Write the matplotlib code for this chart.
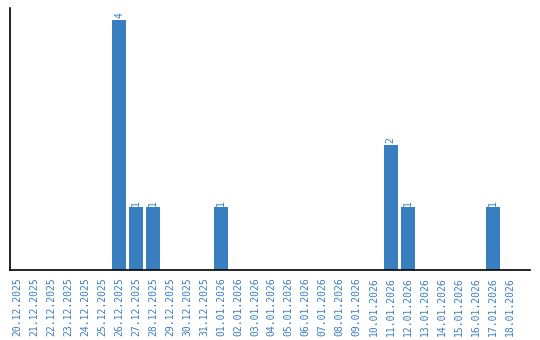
import matplotlib
matplotlib.use('Agg')
import matplotlib.pyplot as plt

dates = ["20.12.2025", "21.12.2025", "22.12.2025", "23.12.2025", "24.12.2025",
         "25.12.2025", "26.12.2025", "27.12.2025", "28.12.2025", "29.12.2025",
         "30.12.2025", "31.12.2025", "01.01.2026", "02.01.2026", "03.01.2026",
         "04.01.2026", "05.01.2026", "06.01.2026", "07.01.2026", "08.01.2026",
         "09.01.2026", "10.01.2026", "11.01.2026", "12.01.2026", "13.01.2026",
         "14.01.2026", "15.01.2026", "16.01.2026", "17.01.2026", "18.01.2026"]
counts = [0, 0, 0, 0, 0, 0, 4, 1, 1, 0,
          0, 0, 1, 0, 0, 0, 0, 0, 0, 0,
          0, 0, 2, 1, 0, 0, 0, 0, 1, 0]

BLUE = '#3a7ec2'

fig = plt.figure(figsize=(5.4, 3.4), dpi=100, facecolor='white')
ax = fig.add_axes([0.0185, 0.206, 0.963, 0.770])

x = range(len(dates))
ax.bar(x, counts, width=0.82, color=BLUE)
for i, v in enumerate(counts):
    if v > 0:
        ax.text(i, v + 0.03, str(v), rotation=90, ha='center', va='bottom',
                color=BLUE, fontsize=7, family='DejaVu Sans Mono')

ax.set_xticks(list(x))
ax.set_xticklabels(dates, rotation=90, color=BLUE, fontsize=7, family='DejaVu Sans Mono')
ax.tick_params(axis='x', length=0, pad=5)
ax.set_yticks([])
ax.set_xlim(-0.42, 30.2)
ax.set_ylim(0, 4.19)
for s in ['top', 'right']:
    ax.spines[s].set_visible(False)
for s in ['left', 'bottom']:
    ax.spines[s].set_color('black')
    ax.spines[s].set_linewidth(1.2)

fig.savefig('out.png', dpi=100, facecolor='white')
